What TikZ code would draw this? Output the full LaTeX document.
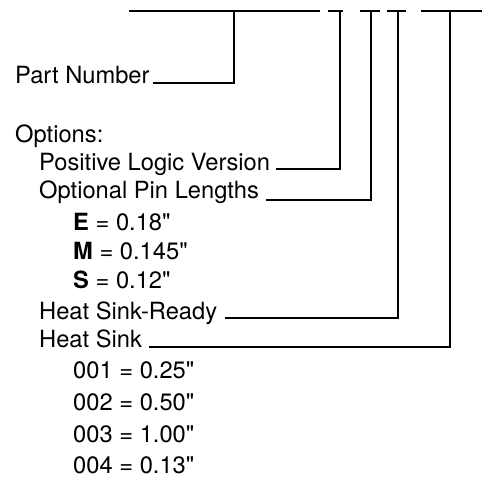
\documentclass[tikz,border=0pt]{standalone}
\usepackage{fontspec}
\setmainfont{TeX Gyre Heros}[Ligatures=TeXOff]
\usepackage{tikz}

\tikzset{
  lbl/.style={anchor=base west, inner xsep=7pt, inner ysep=0pt,
    font=\fontsize{23.7}{28}\selectfont},
  lead/.style={line width=1.8pt}
}

\begin{document}
\begin{tikzpicture}[x=1pt, y=-1pt, line join=miter]
  \useasboundingbox (0,0) rectangle (487,478);
  % top segments of the part number
  \coordinate (A0) at (129,10.7);
  \coordinate (A1) at (320,10.7);
  \coordinate (B0) at (328,10.7);
  \coordinate (B1) at (343,10.7);
  \coordinate (C0) at (360,10.7);
  \coordinate (C1) at (380,10.7);
  \coordinate (D0) at (387,10.7);
  \coordinate (D1) at (406,10.7);
  \coordinate (E0) at (421,10.7);
  \coordinate (E1) at (482,10.7);
  \coordinate (TPN) at (234,10.7);
  \coordinate (TPL) at (340,10.7);
  \coordinate (TPin) at (371,10.7);
  \coordinate (THSR) at (398,10.7);
  \coordinate (THS) at (450,10.7);
  \draw[lead] (A0) -- (A1);
  \draw[lead] (B0) -- (B1);
  \draw[lead] (C0) -- (C1);
  \draw[lead] (D0) -- (D1);
  \draw[lead] (E0) -- (E1);
  % labels
  \node[lbl, inner xsep=3pt] (pn) at (12,84) {Part Number};
  \node[lbl] (opt) at (8,143) {Options:};
  \node[lbl, inner xsep=6pt] (pl) at (33,171) {Positive Logic Version};
  \node[lbl] (pin) at (32,199) {Optional Pin Lengths};
  \node[lbl] (pinE) at (66,231) {\textbf{E} = 0.18"};
  \node[lbl] (pinM) at (66,260) {\textbf{M} = 0.145"};
  \node[lbl] (pinS) at (66,288) {\textbf{S} = 0.12"};
  \node[lbl, inner xsep=8pt] (hsr) at (31,319) {Heat Sink-Ready};
  \node[lbl] (hs) at (32,347) {Heat Sink};
  \node[lbl] (hs1) at (66,378) {001 = 0.25"};
  \node[lbl] (hs2) at (66,410) {002 = 0.50"};
  \node[lbl] (hs3) at (66,442) {003 = 1.00"};
  \node[lbl] (hs4) at (66,473) {004 = 0.13"};
  % leaders up to the part number
  \draw[lead] ([yshift=1pt]pn.base east) -| (TPN);
  \draw[lead] ([yshift=2pt]pl.base east) -| (TPL);
  \draw[lead] ([yshift=-1pt]pin.base east) -| (TPin);
  \draw[lead] ([yshift=1pt]hsr.base east) -| (THSR);
  \draw[lead] (hs.base east) -| (THS);
\end{tikzpicture}
\end{document}
